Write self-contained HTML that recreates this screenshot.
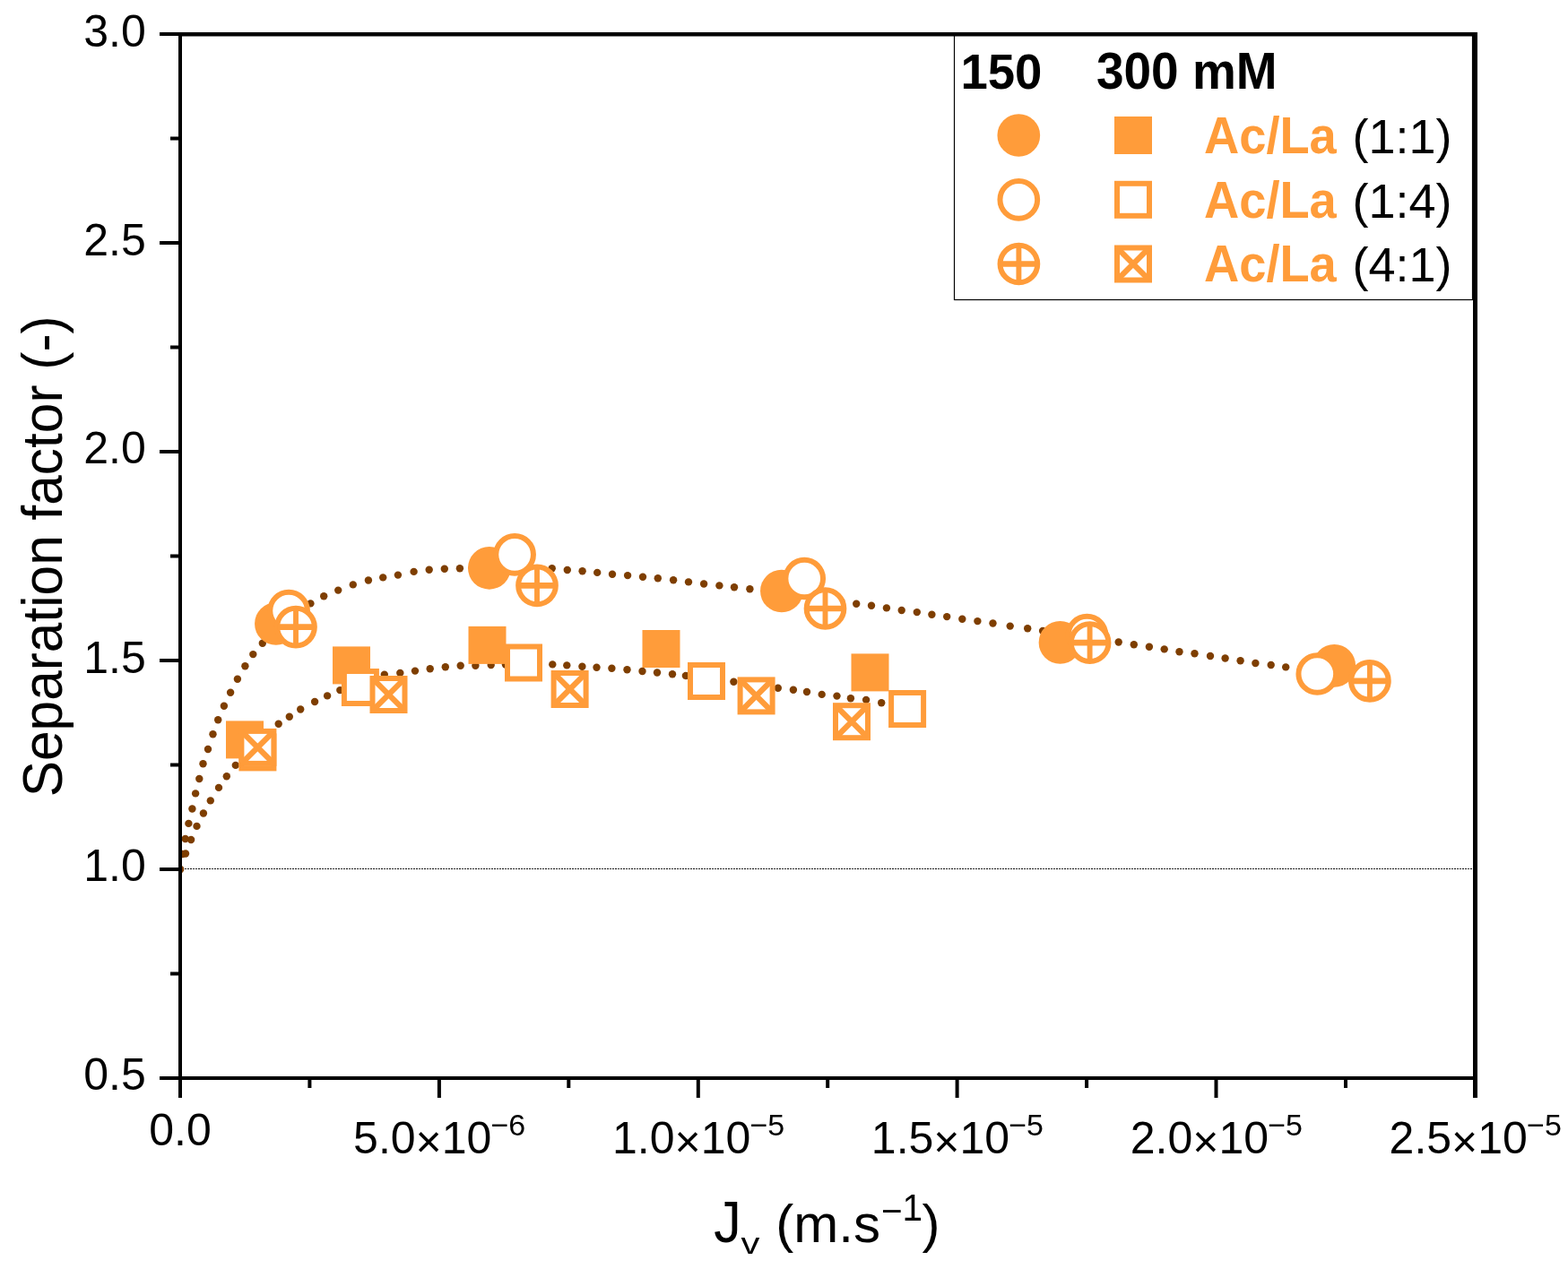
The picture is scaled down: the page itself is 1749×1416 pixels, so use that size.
<!DOCTYPE html>
<html><head><meta charset="utf-8"><title>Separation factor vs Jv</title>
<style>html,body{margin:0;padding:0;background:#fff;}svg{display:block;}</style>
</head><body>
<svg width="1749" height="1416" viewBox="0 0 1749 1416">
<rect width="1749" height="1416" fill="#fff"/>
<line x1="203" y1="969.5" x2="1643" y2="969.5" stroke="#000" stroke-width="1" stroke-dasharray="2 1"/>
<defs><clipPath id="pc"><rect x="201" y="38" width="1444.4" height="1165"/></clipPath></defs>
<g fill="#7E3E00" clip-path="url(#pc)"><circle cx="201.0" cy="970.0" r="4.2"/><circle cx="203.5" cy="953.0" r="4.2"/><circle cx="206.7" cy="936.0" r="4.2"/><circle cx="210.4" cy="918.9" r="4.2"/><circle cx="214.4" cy="902.5" r="4.2"/><circle cx="218.1" cy="885.4" r="4.2"/><circle cx="222.3" cy="869.0" r="4.2"/><circle cx="226.5" cy="852.3" r="4.2"/><circle cx="232.0" cy="836.0" r="4.2"/><circle cx="237.5" cy="819.3" r="4.2"/><circle cx="243.2" cy="803.3" r="4.2"/><circle cx="249.9" cy="787.8" r="4.2"/><circle cx="257.1" cy="772.8" r="4.2"/><circle cx="264.9" cy="757.8" r="4.2"/><circle cx="273.4" cy="743.3" r="4.2"/><circle cx="282.3" cy="730.1" r="4.2"/><circle cx="292.8" cy="717.7" r="4.2"/><circle cx="306.1" cy="706.2" r="4.2"/><circle cx="318.8" cy="694.4" r="4.2"/><circle cx="332.4" cy="683.7" r="4.2"/><circle cx="346.4" cy="673.4" r="4.2"/><circle cx="361.2" cy="665.2" r="4.2"/><circle cx="377.2" cy="658.6" r="4.2"/><circle cx="393.8" cy="652.4" r="4.2"/><circle cx="410.9" cy="647.5" r="4.2"/><circle cx="427.2" cy="644.4" r="4.2"/><circle cx="443.9" cy="641.6" r="4.2"/><circle cx="461.6" cy="637.9" r="4.2"/><circle cx="478.7" cy="635.8" r="4.2"/><circle cx="495.8" cy="634.7" r="4.2"/><circle cx="512.9" cy="634.2" r="4.2"/><circle cx="530.1" cy="632.7" r="4.2"/><circle cx="547.2" cy="632.4" r="4.2"/><circle cx="564.3" cy="632.4" r="4.2"/><circle cx="581.5" cy="632.8" r="4.2"/><circle cx="615.7" cy="634.2" r="4.2"/><circle cx="632.8" cy="636.0" r="4.2"/><circle cx="649.6" cy="637.3" r="4.2"/><circle cx="666.2" cy="638.9" r="4.2"/><circle cx="683.0" cy="640.8" r="4.2"/><circle cx="700.1" cy="642.1" r="4.2"/><circle cx="717.0" cy="643.7" r="4.2"/><circle cx="733.8" cy="645.2" r="4.2"/><circle cx="751.1" cy="647.3" r="4.2"/><circle cx="768.0" cy="649.4" r="4.2"/><circle cx="785.1" cy="651.5" r="4.2"/><circle cx="802.4" cy="653.4" r="4.2"/><circle cx="819.0" cy="655.2" r="4.2"/><circle cx="836.4" cy="657.3" r="4.2"/><circle cx="853.4" cy="660.0" r="4.2"/><circle cx="870.4" cy="662.2" r="4.2"/><circle cx="887.3" cy="664.4" r="4.2"/><circle cx="904.3" cy="666.7" r="4.2"/><circle cx="921.3" cy="669.0" r="4.2"/><circle cx="938.3" cy="671.3" r="4.2"/><circle cx="955.2" cy="673.7" r="4.2"/><circle cx="972.0" cy="675.8" r="4.2"/><circle cx="988.9" cy="678.4" r="4.2"/><circle cx="1005.7" cy="681.0" r="4.2"/><circle cx="1022.8" cy="683.1" r="4.2"/><circle cx="1039.4" cy="685.7" r="4.2"/><circle cx="1056.2" cy="688.1" r="4.2"/><circle cx="1073.3" cy="690.7" r="4.2"/><circle cx="1090.4" cy="693.1" r="4.2"/><circle cx="1107.5" cy="695.5" r="4.2"/><circle cx="1126.7" cy="698.6" r="4.2"/><circle cx="1146.2" cy="701.3" r="4.2"/><circle cx="1163.1" cy="704.0" r="4.2"/><circle cx="1180.0" cy="706.5" r="4.2"/><circle cx="1197.0" cy="709.1" r="4.2"/><circle cx="1213.8" cy="711.6" r="4.2"/><circle cx="1230.8" cy="714.2" r="4.2"/><circle cx="1247.7" cy="716.5" r="4.2"/><circle cx="1264.8" cy="719.2" r="4.2"/><circle cx="1281.9" cy="721.8" r="4.2"/><circle cx="1298.7" cy="724.4" r="4.2"/><circle cx="1315.5" cy="727.3" r="4.2"/><circle cx="1332.5" cy="729.2" r="4.2"/><circle cx="1350.0" cy="732.0" r="4.2"/><circle cx="1366.6" cy="734.5" r="4.2"/><circle cx="1383.6" cy="737.2" r="4.2"/><circle cx="1400.4" cy="740.0" r="4.2"/><circle cx="1417.7" cy="742.0" r="4.2"/><circle cx="1434.2" cy="744.4" r="4.2"/><circle cx="1464.7" cy="748.5" r="4.2"/><circle cx="1480.0" cy="750.5" r="4.2"/><circle cx="1495.5" cy="752.8" r="4.2"/><circle cx="1511.1" cy="755.0" r="4.2"/><circle cx="1527.0" cy="756.5" r="4.2"/></g>
<g fill="#7E3E00" clip-path="url(#pc)"><circle cx="201.0" cy="970.0" r="4.2"/><circle cx="207.0" cy="952.5" r="4.2"/><circle cx="213.1" cy="937.0" r="4.2"/><circle cx="219.5" cy="921.9" r="4.2"/><circle cx="226.9" cy="907.5" r="4.2"/><circle cx="234.8" cy="893.4" r="4.2"/><circle cx="244.0" cy="878.9" r="4.2"/><circle cx="252.8" cy="866.2" r="4.2"/><circle cx="262.8" cy="853.9" r="4.2"/><circle cx="273.7" cy="841.3" r="4.2"/><circle cx="285.5" cy="829.6" r="4.2"/><circle cx="298.0" cy="818.5" r="4.2"/><circle cx="310.7" cy="807.8" r="4.2"/><circle cx="322.8" cy="799.7" r="4.2"/><circle cx="335.2" cy="791.5" r="4.2"/><circle cx="351.1" cy="783.0" r="4.2"/><circle cx="365.1" cy="776.4" r="4.2"/><circle cx="379.3" cy="770.1" r="4.2"/><circle cx="395.9" cy="764.7" r="4.2"/><circle cx="412.6" cy="759.6" r="4.2"/><circle cx="428.8" cy="752.6" r="4.2"/><circle cx="446.3" cy="750.9" r="4.2"/><circle cx="463.0" cy="748.6" r="4.2"/><circle cx="479.7" cy="746.3" r="4.2"/><circle cx="496.8" cy="744.3" r="4.2"/><circle cx="513.7" cy="742.8" r="4.2"/><circle cx="530.4" cy="742.8" r="4.2"/><circle cx="547.7" cy="742.0" r="4.2"/><circle cx="563.9" cy="741.6" r="4.2"/><circle cx="581.4" cy="740.8" r="4.2"/><circle cx="598.9" cy="740.9" r="4.2"/><circle cx="616.3" cy="741.4" r="4.2"/><circle cx="632.3" cy="742.4" r="4.2"/><circle cx="649.4" cy="743.7" r="4.2"/><circle cx="665.5" cy="744.7" r="4.2"/><circle cx="682.4" cy="745.7" r="4.2"/><circle cx="699.5" cy="747.2" r="4.2"/><circle cx="716.5" cy="749.0" r="4.2"/><circle cx="733.0" cy="750.5" r="4.2"/><circle cx="750.0" cy="752.2" r="4.2"/><circle cx="764.9" cy="754.0" r="4.2"/><circle cx="782.8" cy="756.3" r="4.2"/><circle cx="800.6" cy="758.7" r="4.2"/><circle cx="818.4" cy="760.8" r="4.2"/><circle cx="834.8" cy="763.4" r="4.2"/><circle cx="851.3" cy="765.8" r="4.2"/><circle cx="867.8" cy="767.7" r="4.2"/><circle cx="884.9" cy="769.7" r="4.2"/><circle cx="900.0" cy="772.0" r="4.2"/><circle cx="916.7" cy="774.9" r="4.2"/><circle cx="933.5" cy="776.6" r="4.2"/><circle cx="948.9" cy="779.2" r="4.2"/><circle cx="966.1" cy="780.9" r="4.2"/><circle cx="983.2" cy="784.3" r="4.2"/><circle cx="1000.0" cy="786.8" r="4.2"/></g>
<circle cx="307.9" cy="696.0" r="23.85" fill="#FF9C3A"/>
<circle cx="545.8" cy="633.8" r="23.85" fill="#FF9C3A"/>
<circle cx="871.9" cy="659.5" r="23.85" fill="#FF9C3A"/>
<circle cx="1182.5" cy="716.9" r="23.85" fill="#FF9C3A"/>
<circle cx="1488.3" cy="742.9" r="23.85" fill="#FF9C3A"/>
<rect x="252.00" y="804.40" width="42.0" height="42.0" fill="#FF9C3A"/>
<rect x="371.00" y="721.40" width="42.0" height="42.0" fill="#FF9C3A"/>
<rect x="522.50" y="698.90" width="42.0" height="42.0" fill="#FF9C3A"/>
<rect x="716.50" y="703.00" width="42.0" height="42.0" fill="#FF9C3A"/>
<rect x="949.50" y="729.40" width="42.0" height="42.0" fill="#FF9C3A"/>
<circle cx="322.1" cy="681.6" r="20.85" fill="#fff" stroke="#FF9C3A" stroke-width="6.0"/>
<circle cx="574.1" cy="618.8" r="20.85" fill="#fff" stroke="#FF9C3A" stroke-width="6.0"/>
<circle cx="897.2" cy="645.5" r="20.85" fill="#fff" stroke="#FF9C3A" stroke-width="6.0"/>
<circle cx="1212.5" cy="708.7" r="20.85" fill="#fff" stroke="#FF9C3A" stroke-width="6.0"/>
<circle cx="1469.3" cy="752.0" r="20.85" fill="#fff" stroke="#FF9C3A" stroke-width="6.0"/>
<rect x="269.40" y="821.40" width="36.0" height="36.0" fill="#fff" stroke="#FF9C3A" stroke-width="6.0"/>
<rect x="383.90" y="749.00" width="36.0" height="36.0" fill="#fff" stroke="#FF9C3A" stroke-width="6.0"/>
<rect x="566.00" y="721.50" width="36.0" height="36.0" fill="#fff" stroke="#FF9C3A" stroke-width="6.0"/>
<rect x="770.00" y="742.00" width="36.0" height="36.0" fill="#fff" stroke="#FF9C3A" stroke-width="6.0"/>
<rect x="994.10" y="773.00" width="36.0" height="36.0" fill="#fff" stroke="#FF9C3A" stroke-width="6.0"/>
<circle cx="330.0" cy="699.6" r="20.85" fill="#fff" stroke="#FF9C3A" stroke-width="6.0"/><path d="M309.15 699.6H350.85" stroke="#FF9C3A" stroke-width="6.7"/><path d="M330.0 678.75V720.45" stroke="#FF9C3A" stroke-width="5.9"/>
<circle cx="599.0" cy="653.3" r="20.85" fill="#fff" stroke="#FF9C3A" stroke-width="6.0"/><path d="M578.15 653.3H619.85" stroke="#FF9C3A" stroke-width="6.7"/><path d="M599.0 632.4499999999999V674.15" stroke="#FF9C3A" stroke-width="5.9"/>
<circle cx="920.5" cy="679.0" r="20.85" fill="#fff" stroke="#FF9C3A" stroke-width="6.0"/><path d="M899.65 679.0H941.35" stroke="#FF9C3A" stroke-width="6.7"/><path d="M920.5 658.15V699.85" stroke="#FF9C3A" stroke-width="5.9"/>
<circle cx="1215.6" cy="717.2" r="20.85" fill="#fff" stroke="#FF9C3A" stroke-width="6.0"/><path d="M1194.75 717.2H1236.4499999999998" stroke="#FF9C3A" stroke-width="6.7"/><path d="M1215.6 696.35V738.0500000000001" stroke="#FF9C3A" stroke-width="5.9"/>
<circle cx="1527.9" cy="759.8" r="20.85" fill="#fff" stroke="#FF9C3A" stroke-width="6.0"/><path d="M1507.0500000000002 759.8H1548.75" stroke="#FF9C3A" stroke-width="6.7"/><path d="M1527.9 738.9499999999999V780.65" stroke="#FF9C3A" stroke-width="5.9"/>
<rect x="269.40" y="815.90" width="36.0" height="36.0" fill="#fff" stroke="#FF9C3A" stroke-width="6.0"/><path d="M269.40 815.90L305.40 851.90M305.40 815.90L269.40 851.90" stroke="#FF9C3A" stroke-width="6.3"/>
<rect x="415.50" y="757.00" width="36.0" height="36.0" fill="#fff" stroke="#FF9C3A" stroke-width="6.0"/><path d="M415.50 757.00L451.50 793.00M451.50 757.00L415.50 793.00" stroke="#FF9C3A" stroke-width="6.3"/>
<rect x="617.60" y="751.00" width="36.0" height="36.0" fill="#fff" stroke="#FF9C3A" stroke-width="6.0"/><path d="M617.60 751.00L653.60 787.00M653.60 751.00L617.60 787.00" stroke="#FF9C3A" stroke-width="6.3"/>
<rect x="825.60" y="758.40" width="36.0" height="36.0" fill="#fff" stroke="#FF9C3A" stroke-width="6.0"/><path d="M825.60 758.40L861.60 794.40M861.60 758.40L825.60 794.40" stroke="#FF9C3A" stroke-width="6.3"/>
<rect x="932.00" y="787.20" width="36.0" height="36.0" fill="#fff" stroke="#FF9C3A" stroke-width="6.0"/><path d="M932.00 787.20L968.00 823.20M968.00 787.20L932.00 823.20" stroke="#FF9C3A" stroke-width="6.3"/>
<g fill="#000">
<rect x="199" y="36" width="1449" height="4.5"/>
<rect x="199" y="1201" width="1449" height="4"/>
<rect x="199" y="36" width="4" height="1189"/>
<rect x="1643" y="36" width="5" height="1189"/>
<rect x="178" y="1201.0" width="22" height="4"/>
<rect x="178" y="968.0" width="22" height="4"/>
<rect x="178" y="735.0" width="22" height="4"/>
<rect x="178" y="502.0" width="22" height="4"/>
<rect x="178" y="269.0" width="22" height="4"/>
<rect x="178" y="36.0" width="22" height="4"/>
<rect x="190" y="1084.5" width="10" height="4"/>
<rect x="190" y="851.5" width="10" height="4"/>
<rect x="190" y="618.5" width="10" height="4"/>
<rect x="190" y="385.5" width="10" height="4"/>
<rect x="190" y="152.5" width="10" height="4"/>
<rect x="199.0" y="1203" width="4" height="22"/>
<rect x="487.9" y="1203" width="4" height="22"/>
<rect x="776.8" y="1203" width="4" height="22"/>
<rect x="1065.6" y="1203" width="4" height="22"/>
<rect x="1354.5" y="1203" width="4" height="22"/>
<rect x="1643.4" y="1203" width="4" height="22"/>
<rect x="343.4" y="1203" width="4" height="11"/>
<rect x="632.3" y="1203" width="4" height="11"/>
<rect x="921.2" y="1203" width="4" height="11"/>
<rect x="1210.1" y="1203" width="4" height="11"/>
<rect x="1499.0" y="1203" width="4" height="11"/>
</g>
<g font-family="'Liberation Sans', Arial, Helvetica, sans-serif" fill="#000">
<text transform="translate(162.70 1216.00) scale(1 1.0)" font-size="50" text-anchor="end">0.5</text>
<text transform="translate(162.70 982.80) scale(1 1.0)" font-size="50" text-anchor="end">1.0</text>
<text transform="translate(162.70 750.90) scale(1 1.0)" font-size="50" text-anchor="end">1.5</text>
<text transform="translate(162.70 516.80) scale(1 1.0)" font-size="50" text-anchor="end">2.0</text>
<text transform="translate(162.70 284.90) scale(1 1.0)" font-size="50" text-anchor="end">2.5</text>
<text transform="translate(162.70 51.90) scale(1 1.0)" font-size="50" text-anchor="end">3.0</text>
<text transform="translate(201.00 1278.20) scale(1 1.0)" font-size="50" text-anchor="middle">0.0</text>
<text transform="translate(490.18 1286.60) scale(1 1.0)" font-size="50" text-anchor="middle">5.0<tspan dy="4.3">×</tspan><tspan dy="-4.3">10</tspan><tspan font-size="34" dx="-0.9" dy="-20.0">−6</tspan></text>
<text transform="translate(779.06 1286.60) scale(1 1.0)" font-size="50" text-anchor="middle">1.0<tspan dy="4.3">×</tspan><tspan dy="-4.3">10</tspan><tspan font-size="34" dx="-0.9" dy="-20.0">−5</tspan></text>
<text transform="translate(1067.94 1286.60) scale(1 1.0)" font-size="50" text-anchor="middle">1.5<tspan dy="4.3">×</tspan><tspan dy="-4.3">10</tspan><tspan font-size="34" dx="-0.9" dy="-20.0">−5</tspan></text>
<text transform="translate(1356.82 1286.60) scale(1 1.0)" font-size="50" text-anchor="middle">2.0<tspan dy="4.3">×</tspan><tspan dy="-4.3">10</tspan><tspan font-size="34" dx="-0.9" dy="-20.0">−5</tspan></text>
<text transform="translate(1645.70 1286.60) scale(1 1.0)" font-size="50" text-anchor="middle">2.5<tspan dy="4.3">×</tspan><tspan dy="-4.3">10</tspan><tspan font-size="34" dx="-0.9" dy="-20.0">−5</tspan></text>
</g>
<text font-family="'Liberation Sans', Arial, Helvetica, sans-serif" font-size="60.4" transform="translate(68.6 889.3) rotate(-90) scale(1 1.05)">Separation factor (-)</text>
<g font-family="'Liberation Sans', Arial, Helvetica, sans-serif" fill="#000">
<text transform="translate(796.30 1386.20) scale(1 1.06)" font-size="61">J</text>
<text font-family="'Liberation Sans', Arial, Helvetica, sans-serif" font-size="34" transform="translate(826.5 1398.9) scale(1.23 1.0)">v</text>
<text transform="translate(865.30 1386.20) scale(1 1.0)" font-size="60">(m.s</text>
<text transform="translate(983.00 1364.90) scale(1 1.0)" font-size="40.5">−</text>
<text transform="translate(1006.60 1362.20) scale(1 1.03)" font-size="40.5">1</text>
<text transform="translate(1028.60 1386.20) scale(1 1.0)" font-size="60">)</text>
</g>
<rect x="1064.5" y="38" width="578" height="296.5" fill="none" stroke="#000" stroke-width="1.2"/>
<g font-family="'Liberation Sans', Arial, Helvetica, sans-serif" fill="#000">
<text transform="translate(1071.50 98.90) scale(1 1.03)" font-size="54.5" font-weight="bold">150</text>
<text transform="translate(1222.90 98.70) scale(1 1.045)" font-size="55" font-weight="bold">300 mM</text>
<text transform="translate(1343.00 170.90) scale(1 1.04)" font-size="54.3" font-weight="bold" fill="#FF9C3A">Ac/La</text>
<text transform="translate(1508.50 170.90) scale(1 1.0)" font-size="54.0">(1:1)</text>
<text transform="translate(1343.00 242.60) scale(1 1.04)" font-size="54.3" font-weight="bold" fill="#FF9C3A">Ac/La</text>
<text transform="translate(1508.50 242.60) scale(1 1.0)" font-size="54.0">(1:4)</text>
<text transform="translate(1343.00 314.00) scale(1 1.04)" font-size="54.3" font-weight="bold" fill="#FF9C3A">Ac/La</text>
<text transform="translate(1508.50 314.00) scale(1 1.0)" font-size="54.0">(4:1)</text>
</g>
<circle cx="1136.3" cy="151.0" r="23.85" fill="#FF9C3A"/>
<rect x="1243.00" y="130.00" width="42.0" height="42.0" fill="#FF9C3A"/>
<circle cx="1136.3" cy="222.8" r="20.85" fill="#fff" stroke="#FF9C3A" stroke-width="6.0"/>
<rect x="1246.00" y="204.80" width="36.0" height="36.0" fill="#fff" stroke="#FF9C3A" stroke-width="6.0"/>
<circle cx="1136.4" cy="294.5" r="20.85" fill="#fff" stroke="#FF9C3A" stroke-width="6.0"/><path d="M1115.5500000000002 294.5H1157.25" stroke="#FF9C3A" stroke-width="6.7"/><path d="M1136.4 273.65V315.35" stroke="#FF9C3A" stroke-width="5.9"/>
<rect x="1246.00" y="276.50" width="36.0" height="36.0" fill="#fff" stroke="#FF9C3A" stroke-width="6.0"/><path d="M1246.00 276.50L1282.00 312.50M1282.00 276.50L1246.00 312.50" stroke="#FF9C3A" stroke-width="6.3"/>
</svg>
</body></html>
